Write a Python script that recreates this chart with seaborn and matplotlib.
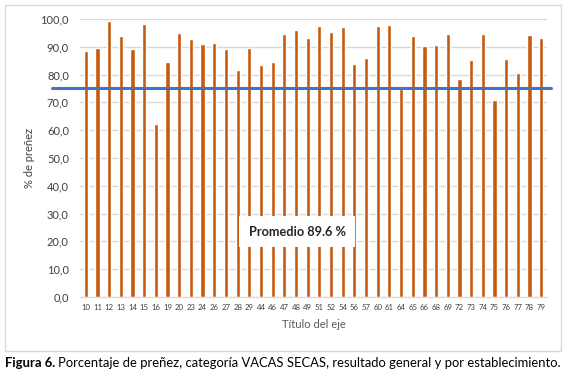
import numpy as np
import pandas as pd
import matplotlib
matplotlib.use('Agg')
import matplotlib.pyplot as plt
import matplotlib.transforms as mtransforms
from matplotlib.patches import Rectangle
import seaborn as sns

# --- datos ---
establecimientos = ['10', '11', '12', '13', '14', '15', '16', '19', '20', '23',
                    '24', '26', '27', '28', '29', '44', '46', '47', '48', '49',
                    '51', '52', '54', '56', '57', '60', '61', '64', '65', '66',
                    '68', '69', '72', '73', '74', '75', '76', '77', '78', '79']
prenez = [88.6, 89.6, 99.4, 94.0, 89.3, 98.3, 62.1, 84.6, 95.0, 92.9,
          91.1, 91.4, 89.3, 81.7, 89.7, 83.4, 84.6, 94.7, 96.1, 93.2,
          97.6, 95.4, 97.2, 83.9, 86.0, 97.6, 97.9, 74.9, 94.0, 90.4,
          90.7, 94.7, 78.4, 85.3, 94.7, 70.8, 85.7, 80.6, 94.3, 93.2]
linea_promedio = 75.3
texto_promedio = 'Promedio 89.6 %'
yticks = [0, 10, 20, 30, 40, 50, 60, 70, 80, 90, 100]

df = pd.DataFrame({'est': establecimientos, 'prenez': prenez})

sns.set_style('white')
plt.rcParams['font.family'] = ['Lato', 'DejaVu Sans']

W, H = 575, 377
fig = plt.figure(figsize=(W / 100, H / 100), dpi=100)
ax = fig.add_axes([80 / W, 1 - 297 / H, 467 / W, 278 / H])

sns.barplot(data=df, x='est', y='prenez', order=establecimientos,
            color='#C55A11', saturation=1, width=0.36, ax=ax, zorder=2)

ax.set_ylim(0, 100)
ax.set_xlim(-0.5, len(establecimientos) - 0.5)
ax.set_yticks(yticks)
ax.set_yticklabels([f'{v:.1f}'.replace('.', ',') for v in yticks],
                   fontsize=8, color='#404040')
ax.tick_params(axis='x', labelsize=5.6, colors='#404040', length=0, pad=5)
ax.tick_params(axis='y', length=0, pad=8)
ax.grid(axis='y', color='#D9D9D9', linewidth=1, zorder=0)
ax.set_axisbelow(True)
for s in ['top', 'right', 'left']:
    ax.spines[s].set_visible(False)
ax.spines['bottom'].set_color('#D9D9D9')

ax.set_xlabel('Título del eje', fontsize=8, color='#595959', labelpad=6)
ax.set_ylabel('% de preñez', fontsize=8, color='#404040', labelpad=4)

# linea de promedio
trans = mtransforms.blended_transform_factory(ax.transAxes, ax.transData)
ax.plot([-0.06, 1.009], [linea_promedio, linea_promedio], transform=trans,
        color='#4472C4', linewidth=2.2, clip_on=False, zorder=3)

ax.text(0.465, 0.235, texto_promedio, transform=ax.transAxes, ha='center',
        va='center', fontsize=9.2, fontweight='bold', color='#262626', zorder=4,
        bbox=dict(boxstyle='square,pad=0.75', facecolor='white', edgecolor='none'))

# marco del grafico
fig.patches.append(Rectangle((5 / W, 1 - 351 / H), 556 / W, 346 / H,
                             transform=fig.transFigure, fill=False,
                             edgecolor='#D9D9D9', linewidth=1))

# pie de figura
t1 = fig.text(5 / W, 1 - 363 / H, 'Figura 6.', fontsize=9.4, fontweight='bold',
              va='center', ha='left', color='black')
fig.canvas.draw()
bb = t1.get_window_extent()
fig.text((bb.x1 + 3) / W, 1 - 363 / H,
         'Porcentaje de preñez, categoría VACAS SECAS, resultado general y por establecimiento.',
         fontsize=9.4, va='center', ha='left', color='black')

fig.savefig('out.png', dpi=100)
